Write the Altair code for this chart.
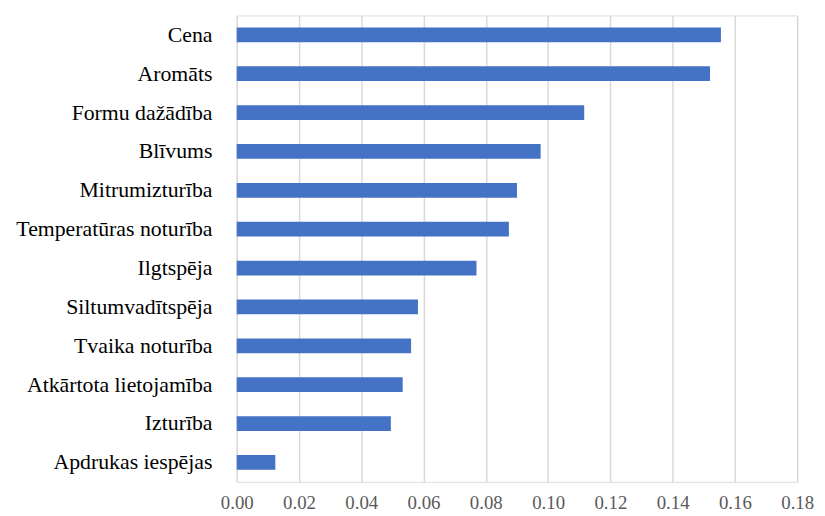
import altair as alt
import pandas as pd

categories = ["Cena", "Aromāts", "Formu dažādība", "Blīvums", "Mitrumizturība",
              "Temperatūras noturība", "Ilgtspēja", "Siltumvadītspēja",
              "Tvaika noturība", "Atkārtota lietojamība", "Izturība",
              "Apdrukas iespējas"]
values = [0.1555, 0.1520, 0.1116, 0.0976, 0.0900, 0.0874, 0.0770, 0.0582,
          0.0560, 0.0533, 0.0495, 0.0124]
x_ticks = [0.0, 0.02, 0.04, 0.06, 0.08, 0.10, 0.12, 0.14, 0.16, 0.18]

df = pd.DataFrame({"cat": categories, "val": values})

serif = "'Liberation Serif', 'Times New Roman', Tinos, 'DejaVu Serif', serif"

chart = alt.Chart(df).mark_bar(color="#4472C4").encode(
    x=alt.X("val:Q",
            scale=alt.Scale(domain=[0, 0.18], nice=False),
            axis=alt.Axis(values=x_ticks, format=".2f", title=None,
                          grid=True, gridColor="#d9d9d9", gridWidth=1.5,
                          domain=False, ticks=False, labelPadding=12,
                          labelFlush=False,
                          labelFont=serif, labelFontSize=19,
                          labelColor="#595959")),
    y=alt.Y("cat:N", sort=categories,
            scale=alt.Scale(paddingInner=0.62, paddingOuter=0.31),
            axis=alt.Axis(title=None, domain=False, ticks=False,
                          labelPadding=25, labelFont=serif,
                          labelFontSize=22, labelColor="#000000",
                          labelLimit=400)),
).properties(
    width=566, height=471,
    autosize=alt.AutoSizeParams(type="none"),
    padding={"left": 231, "top": 5, "right": 20, "bottom": 32},
).configure_view(stroke=None).configure(background="white")

chart.save("out.html", embed_options={"renderer": "svg", "actions": False})
